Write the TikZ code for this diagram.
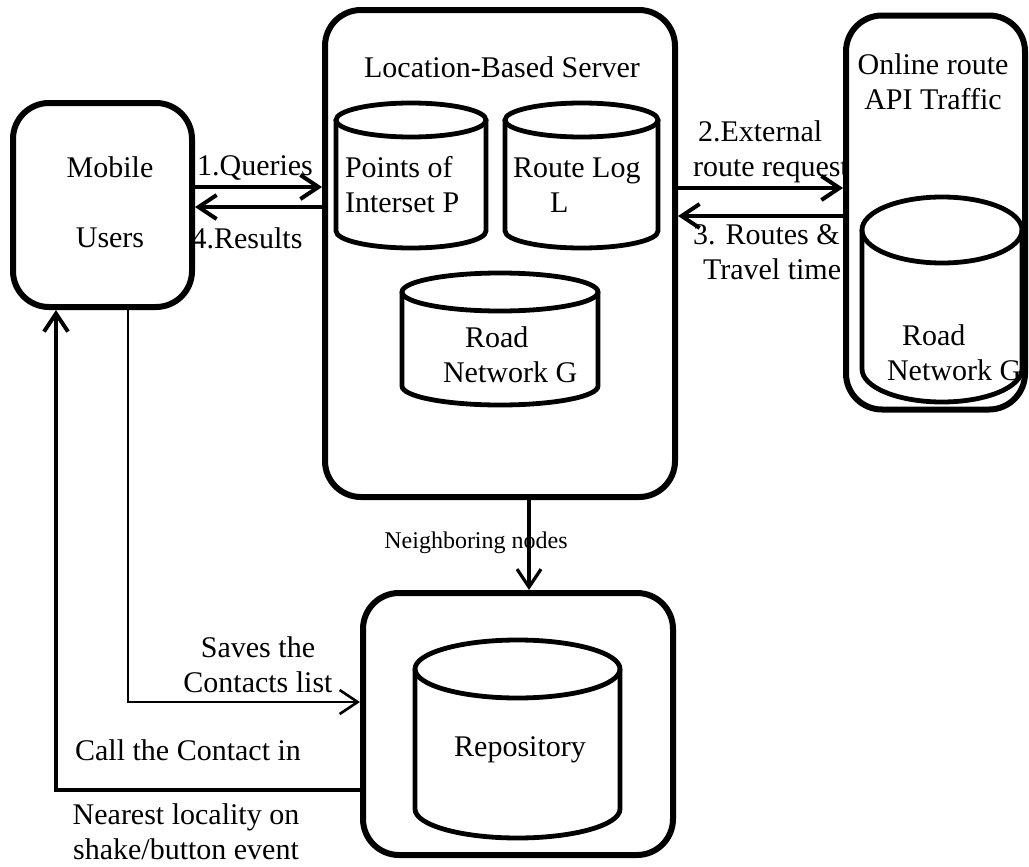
\documentclass[tikz,border=0pt]{standalone}
\usepackage{fontspec}
\setmainfont{Liberation Serif}
\usetikzlibrary{arrows.meta}

% data store drawn as a cylinder: left, right, top, bottom, radius of the lids
\newcommand{\dbcyl}[5]{%
	\pgfmathsetmacro{\cylcx}{(#1+#2)/2}
	\pgfmathsetmacro{\cylrx}{(#2-#1)/2}
	\pgfmathsetmacro{\cylty}{#3+#5}
	\pgfmathsetmacro{\cylby}{#4-#5}
	\draw[db] (#1,\cylty) -- (#1,\cylby) arc[start angle=180, end angle=0, x radius=\cylrx, y radius=#5] -- (#2,\cylty);
	\draw[db] (\cylcx,\cylty) ellipse[x radius=\cylrx, y radius=#5];
}

\begin{document}
\begin{tikzpicture}[x=0.5pt, y=-0.5pt,
    every node/.style = {font=\fontsize{15}{17.5}\selectfont},
    box/.style = {draw, rounded corners=18pt, line width=3pt, inner sep=0pt},
    db/.style = {line width=2.4pt},
    flow/.style = {line width=2pt, -{Straight Barb[length=9pt, width=12pt]}},
    thinflow/.style = {line width=1.3pt, -{Straight Barb[length=9pt, width=12pt]}}]

	\useasboundingbox (0,0) rectangle (1029,867);

	% containers
	\node[box, minimum width=89.5pt, minimum height=102pt] (users) at (102.5,205) {};
	\node[box, minimum width=175pt, minimum height=243.5pt] (server) at (500,253.5) {};
	\node[box, minimum width=89.5pt, minimum height=197pt] (online) at (935.5,212.5) {};
	\node[box, minimum width=155pt, minimum height=131pt] (repo) at (518,724) {};

	% data stores
	\dbcyl{336}{486}{103}{248}{17}
	\dbcyl{505}{658}{103}{248}{17}
	\dbcyl{402}{598}{273}{405}{19}
	\dbcyl{862}{1022}{197}{402}{33}
	\dbcyl{415}{620}{640}{838}{29}

	% texts
	\node (mobile) at (110,167) {Mobile};
	\node (usertxt) at (110,238) {Users};
	\node (servertxt) at (502,67) {Location-Based Server};
	\node[anchor=west, align=left] (poitxt) at (338,185) {Points of\\Interset P};
	\node[anchor=west, align=left] (logtxt) at (506,185) {Route Log\\\hspace*{18.5pt}L};
	\node[anchor=west, align=left] (roadstxt) at (436,355) {\hspace*{11pt}Road\\Network G};
	\node[align=center] (onlinetxt) at (933,82) {Online route\\API Traffic};
	\node[anchor=west, align=left] (roadotxt) at (880,353) {\hspace*{7.5pt}Road\\Network G};
	\node (repotxt) at (520,750) {Repository};

	% connector labels
	\node (qtxt) at (255,168) {1.Queries};
	\node (rtxt) at (247,238) {4.Results};
	\node[anchor=west, align=left] (exttxt) at (686,152) {\hspace*{2.5pt}2.External\\route request};
	\node[anchor=west, align=left] (rttxt) at (686,252) {3. Routes \&\\\hspace*{5pt}Travel time};
	\node[font=\fontsize{12}{14}\selectfont] (nbtxt) at (476,543) {Neighboring nodes};
	\node[align=center] (savetxt) at (258,665) {Saves the\\Contacts list};
	\node (calltxt) at (188,750) {Call the Contact in};
	\node[align=center] (neartxt) at (186,832) {Nearest locality on\\shake/button event};

	% connectors
	\draw[flow] (users.east |- 0,187) -- (server.west |- 0,187);
	\draw[flow] (server.west |- 0,207) -- (users.east |- 0,207);
	\draw[flow] (server.east |- 0,188) -- (online.west |- 0,188);
	\draw[flow] (online.west |- 0,216) -- (server.east |- 0,216);
	\draw[thinflow, line width=1.6pt] (server.south -| 529,0) -- (repo.north -| 529,0);
	\draw[thinflow] (users.south -| 128,0) |- (repo.west |- 0,702);
	\draw[flow] (repo.west |- 0,790) -| (users.south -| 56,0);

\end{tikzpicture}
\end{document}
